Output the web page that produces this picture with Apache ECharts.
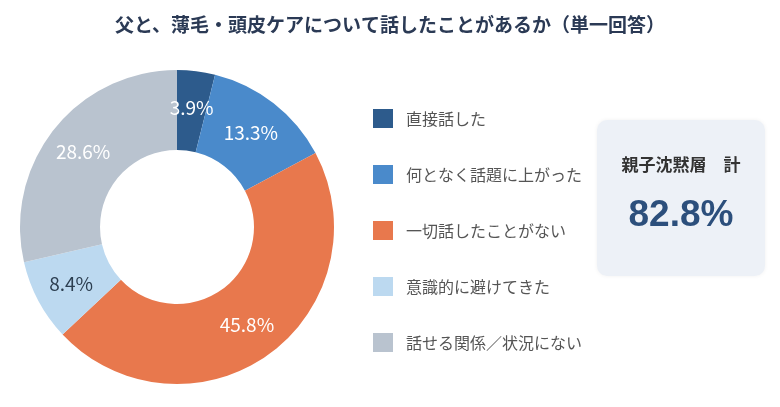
<!DOCTYPE html>
<html>
<head>
<meta charset="utf-8">
<script src="https://cdn.jsdelivr.net/npm/echarts@6/dist/echarts.min.js"></script>
<style>
html,body{margin:0;padding:0;background:#fff;}
#c{width:780px;height:407px;}
</style>
</head>
<body>
<div id="c"></div>
<script>
var titleText = '父と、薄毛・頭皮ケアについて話したことがあるか（単一回答）';
var categories = ['直接話した', '何となく話題に上がった', '一切話したことがない', '意識的に避けてきた', '話せる関係／状況にない'];
var values = [3.9, 13.3, 45.8, 8.4, 28.6];
var colors = ['#2d5b8c', '#4a8acb', '#e8784d', '#bcd9f0', '#b9c3cf'];
var labelColors = ['#ffffff', '#ffffff', '#ffffff', '#2c3e50', '#ffffff'];
var boxLabel = '親子沈黙層　計';
var boxValue = '82.8%';

var FONT = '"Noto Sans CJK JP", "Noto Sans", sans-serif';
var chart = echarts.init(document.getElementById('c'));
var data = categories.map(function (c, i) {
  return {
    name: c,
    value: values[i],
    itemStyle: { color: colors[i] },
    label: { color: labelColors[i] }
  };
});
chart.setOption({
  animation: false,
  title: {
    text: titleText,
    left: 'center',
    top: 10,
    textStyle: { fontFamily: FONT, fontSize: 19, fontWeight: 'bold', color: '#2b3a55' }
  },
  legend: {
    orient: 'vertical',
    left: 368,
    top: 104,
    itemWidth: 20,
    itemHeight: 19,
    itemGap: 37,
    icon: 'rect',
    selectedMode: false,
    data: categories,
    textStyle: { fontFamily: FONT, fontSize: 16, color: '#555555', padding: [0, 0, 0, 8] }
  },
  series: [{
    type: 'pie',
    center: [177, 227],
    radius: [77, 157],
    startAngle: 90,
    clockwise: true,
    avoidLabelOverlap: false,
    data: data,
    label: {
      show: true,
      position: 'inside',
      fontFamily: FONT,
      fontSize: 19,
      formatter: function (p) { return p.value.toFixed(1) + '%'; }
    },
    labelLine: { show: false },
    emphasis: { disabled: true }
  }],
  graphic: [
    {
      type: 'rect',
      left: 597,
      top: 120,
      shape: { width: 168, height: 156, r: 10 },
      style: { fill: '#edf1f7', shadowBlur: 4, shadowColor: 'rgba(0,0,0,0.06)' }
    },
    {
      type: 'text',
      style: {
        text: boxLabel, x: 681, y: 165, align: 'center', verticalAlign: 'middle',
        fontFamily: FONT, fontSize: 17, fontWeight: 'bold', fill: '#333333'
      }
    },
    {
      type: 'text',
      style: {
        text: boxValue, x: 681, y: 216, align: 'center', verticalAlign: 'middle',
        fontFamily: '"Liberation Sans", Arial, sans-serif', fontSize: 37, fontWeight: 'bold', fill: '#2c4f7c'
      }
    }
  ]
});
</script>
</body>
</html>
